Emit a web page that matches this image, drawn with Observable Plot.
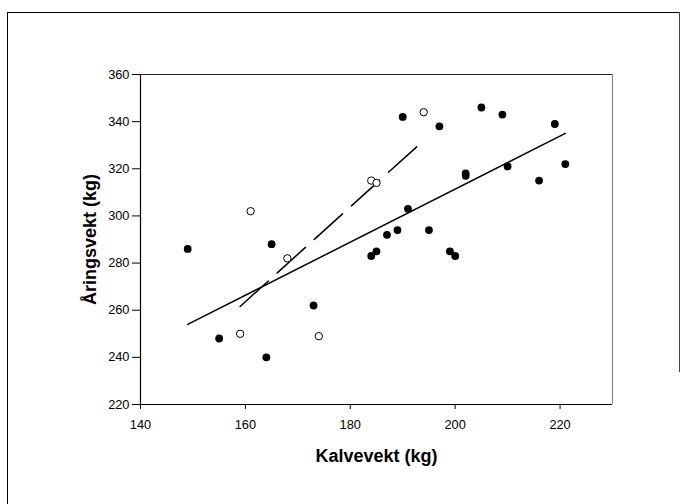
<!DOCTYPE html>
<html>
<head>
<meta charset="utf-8">
<script src="https://cdn.jsdelivr.net/npm/d3@7"></script>
<script src="https://cdn.jsdelivr.net/npm/@observablehq/plot@0.6"></script>
<style>
  html, body { margin: 0; padding: 0; background: white; }
  #wrap { position: relative; width: 686px; height: 504px; }
  .bl { position: absolute; left: 7px; top: 12px; width: 0; height: 492px; border-left: 1.5px solid #000; }
  .bt { position: absolute; left: 7px; top: 12px; width: 672px; height: 0; border-top: 1.5px solid #000; }
  .br { position: absolute; left: 679px; top: 12px; width: 0; height: 360px; border-left: 1px solid #444; }
</style>
</head>
<body>
<div id="wrap"><div class="bl"></div><div class="bt"></div><div class="br"></div></div>
<script>
// Filled circles
const filledX = [149,155,164,165,173,184,185,187,189,190,191,195,197,199,200,202,202,205,209,210,216,219,221];
const filledY = [286,248,240,288,262,283,285,292,294,342,303,294,338,285,283,318,317,346,343,321,315,339,322];
// Open circles
const openX = [159,161,168,174,184,185,194];
const openY = [250,302,282,249,315,314,344];
// Fitted lines (end points)
const solidX = [149,221];
const solidY = [254,335];
const dashedX = [159,193];
const dashedY = [261.6,330];
// Ticks
const xTicks = [140,160,180,200,220];
const yTicks = [220,240,260,280,300,320,340,360];
const xLabel = "Kalvevekt (kg)";
const yLabel = "Åringsvekt (kg)";

const filled = filledX.map((x,i) => ({x, y: filledY[i]}));
const open = openX.map((x,i) => ({x, y: openY[i]}));
const solid = solidX.map((x,i) => ({x, y: solidY[i]}));
const dashed = dashedX.map((x,i) => ({x, y: dashedY[i]}));

const chart = Plot.plot({
  width: 686,
  height: 504,
  marginLeft: 140,
  marginTop: 74,
  marginRight: 74,
  marginBottom: 100,
  x: {domain: [140,230]},
  y: {domain: [220,360]},
  style: {fontFamily: "'Liberation Sans', Arial, sans-serif", fontSize: "12.8px", color: "#000", background: "transparent"},
  marks: [
    Plot.ruleY([360], {stroke: "#222", strokeWidth: 1}),
    Plot.ruleX([230], {stroke: "#888", strokeWidth: 1.2}),
    Plot.ruleX([140], {stroke: "#000", strokeWidth: 1.2}),
    Plot.ruleY([220], {stroke: "#000", strokeWidth: 1.2}),
    Plot.axisX({ticks: xTicks, tickSize: 5, tickPadding: 10, label: null, tickFormat: d => String(d)}),
    Plot.axisY({ticks: yTicks, tickSize: 8, tickPadding: 3, label: null, tickFormat: d => String(d)}),
    Plot.line(solid, {x: "x", y: "y", stroke: "#000", strokeWidth: 1.5}),
    Plot.line(dashed, {x: "x", y: "y", stroke: "#000", strokeWidth: 1.5, strokeDasharray: "38,12"}),
    Plot.dot(filled, {x: "x", y: "y", r: 3.9, fill: "#000"}),
    Plot.dot(open, {x: "x", y: "y", r: 3.7, fill: "white", stroke: "#000", strokeWidth: 1}),
    Plot.text([xLabel], {text: d => d, frameAnchor: "bottom", dy: 57, textAnchor: "middle", fontWeight: "bold", fontSize: 18}),
    Plot.text([yLabel], {text: d => d, frameAnchor: "left", dx: -50, rotate: -90, textAnchor: "middle", lineAnchor: "middle", fontWeight: "bold", fontSize: 18})
  ]
});
chart.style.position = "absolute";
chart.style.left = "0";
chart.style.top = "0";
document.getElementById("wrap").appendChild(chart);
</script>
</body>
</html>
